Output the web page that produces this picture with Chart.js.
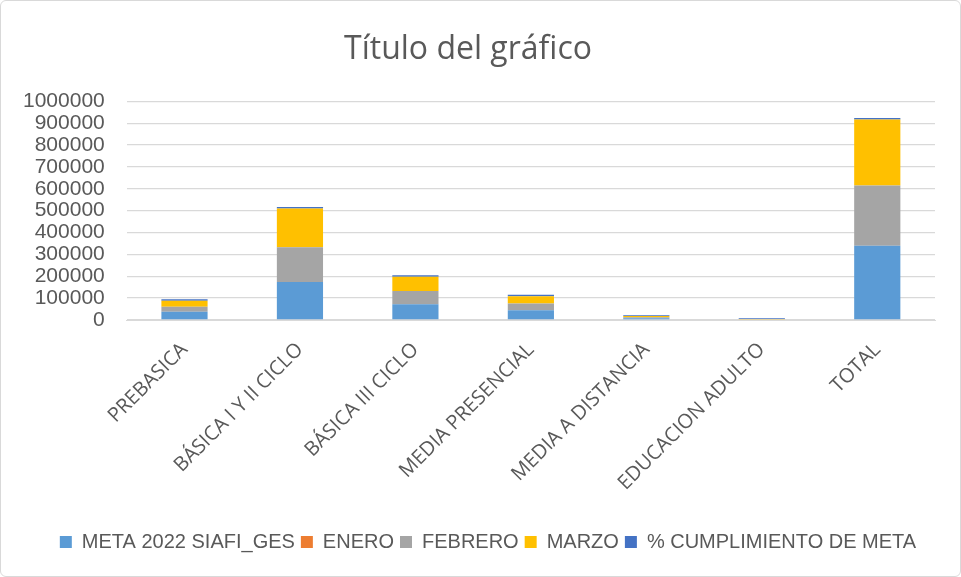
<!DOCTYPE html>
<html>
<head>
<meta charset="utf-8">
<script src="https://cdn.jsdelivr.net/npm/chart.js@4.4.0/dist/chart.umd.min.js"></script>
<style>
  html, body { margin: 0; padding: 0; background: #fff; }
  #wrap { position: relative; width: 959px; height: 575px; border: 1px solid #d9d9d9; border-radius: 6px; }
</style>
</head>
<body>
<div id="wrap"><canvas id="myChart" width="959" height="575"></canvas></div>
<script>
var categories = ['PREBASICA', 'BÁSICA I Y II CICLO', 'BÁSICA III CICLO', 'MEDIA PRESENCIAL', 'MEDIA A DISTANCIA', 'EDUCACION ADULTO', 'TOTAL'];
var meta2022 = [38000, 173600, 72600, 44600, 7500, 3000, 340000];
var enero = [0, 0, 0, 0, 0, 0, 0];
var febrero = [23000, 159000, 59700, 30600, 5000, 1000, 275600];
var marzo = [27600, 177700, 65900, 33700, 6000, 1000, 302000];
var cumplimiento = [6000, 7000, 6000, 7000, 3000, 3000, 7000];
var yTicks = [0, 100000, 200000, 300000, 400000, 500000, 600000, 700000, 800000, 900000, 1000000];

window.onload = function() {
    var ctx = document.getElementById('myChart').getContext('2d');
    var textColor = '#595959';

    // mueve la leyenda un poco a la derecha, como en el original
    var shiftLegend = {
        id: 'shiftLegend',
        afterLayout: function(chart) {
            chart.legend.left += 20;
            chart.legend.right += 20;
        }
    };

    var myChart = new Chart(ctx, {
        type: 'bar',
        data: {
            labels: categories,
            datasets: [
                { label: 'META 2022 SIAFI_GES', data: meta2022, backgroundColor: '#5b9bd5' },
                { label: 'ENERO', data: enero, backgroundColor: '#ed7d31' },
                { label: 'FEBRERO', data: febrero, backgroundColor: '#a5a5a5' },
                { label: 'MARZO', data: marzo, backgroundColor: '#ffc000' },
                { label: '% CUMPLIMIENTO DE META', data: cumplimiento, backgroundColor: '#4472c4' }
            ]
        },
        options: {
            responsive: false,
            animation: false,
            layout: { padding: { left: 0, right: 25, top: 0, bottom: 14 } },
            datasets: { bar: { categoryPercentage: 0.8, barPercentage: 0.5 } },
            scales: {
                x: {
                    stacked: true,
                    grid: { display: false, drawTicks: false },
                    border: { color: '#d9d9d9', width: 1 },
                    afterFit: function(scale) { scale.height = 206; },
                    ticks: {
                        color: textColor,
                        minRotation: 45,
                        maxRotation: 45,
                        padding: 18,
                        autoSkip: false,
                        font: { family: 'Open Sans', size: 20 }
                    }
                },
                y: {
                    stacked: true,
                    min: 0,
                    max: 1000000,
                    afterBuildTicks: function(axis) {
                        axis.ticks = yTicks.map(function(v) { return { value: v }; });
                    },
                    grid: { color: '#d9d9d9', lineWidth: 1.3, drawTicks: false },
                    border: { display: false },
                    ticks: {
                        color: textColor,
                        padding: 22,
                        autoSkip: false,
                        font: { family: 'Liberation Sans', size: 21 },
                        callback: function(v) { return String(v); }
                    }
                }
            },
            plugins: {
                title: {
                    display: true,
                    text: 'Título del gráfico',
                    color: textColor,
                    font: { family: 'Open Sans', size: 32, weight: 'normal' },
                    padding: { top: 30, bottom: 32 }
                },
                legend: {
                    position: 'bottom',
                    labels: {
                        color: textColor,
                        boxWidth: 12,
                        boxHeight: 12,
                        padding: 6,
                        font: { family: 'Liberation Sans', size: 20 }
                    }
                },
                tooltip: { enabled: false }
            }
        },
        plugins: [shiftLegend]
    });
};
</script>
</body>
</html>
